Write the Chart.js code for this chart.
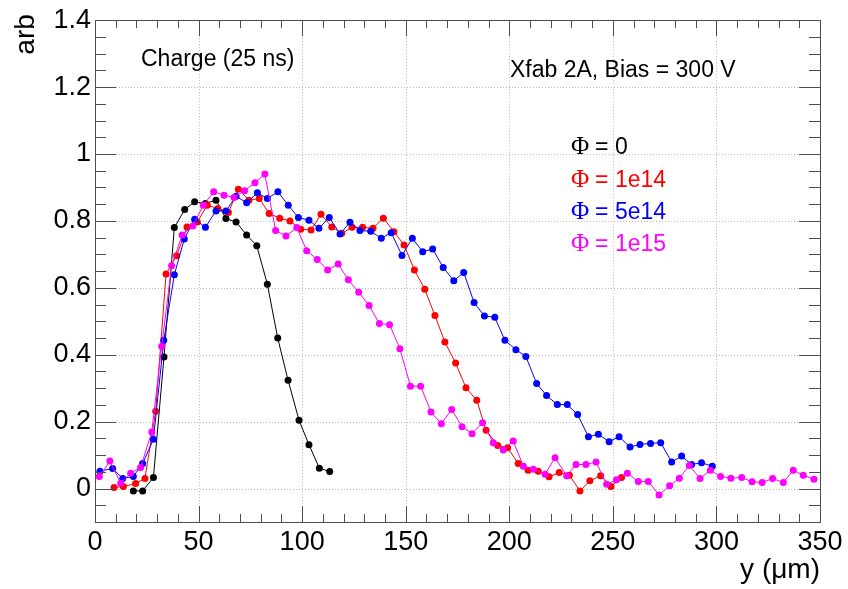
<!DOCTYPE html>
<html>
<head>
<meta charset="utf-8">
<script src="https://cdn.jsdelivr.net/npm/chart.js@4.4.1/dist/chart.umd.min.js"></script>
<style>
  html, body { margin: 0; padding: 0; background: #ffffff; }
  #c { display: block; }
</style>
</head>
<body>
<canvas id="c" width="848" height="589"></canvas>
<script>
// ---------------- data ----------------
const seriesLabels = ['0', '1e14', '5e14', '1e15'];
const seriesColors = ['#000000', '#ff0000', '#0000ff', '#ff00ff'];

const phi0X = [18.5, 23, 28.2, 33.3, 38.3, 43.3, 48.1, 53.3, 58.4, 63.2, 68.1, 73.2, 78.1, 83.2, 88.2, 93.2, 98.5, 103.3, 108.3, 113.3];
const phi0Y = [-0.007, -0.007, 0.033, 0.393, 0.78, 0.834, 0.857, 0.852, 0.862, 0.807, 0.797, 0.758, 0.726, 0.611, 0.45, 0.324, 0.204, 0.131, 0.061, 0.051];

const phi1e14X = [9.2, 13.7, 19.6, 24.1, 29.3, 34.3, 39.4, 44.4, 49.4, 54.2, 59.3, 64.4, 69.2, 74.3, 79.3, 84.1, 89.2, 94.1, 99.3, 104.3, 109.1, 114.3, 119.1, 124.1, 129.2, 134.2, 139.2, 144.3, 149.2, 154.2, 159.2, 164.1, 168.9, 174.1, 179.1, 184.3, 188.8, 194.4, 199.2, 204.3, 209.1, 214, 219.2, 224.1, 229, 234.1, 238.9, 244.1, 249.1, 254.2];
const phi1e14Y = [0.003, 0.006, 0.015, 0.03, 0.231, 0.641, 0.696, 0.782, 0.797, 0.847, 0.837, 0.825, 0.895, 0.862, 0.867, 0.822, 0.808, 0.80, 0.775, 0.773, 0.82, 0.782, 0.763, 0.781, 0.781, 0.778, 0.808, 0.768, 0.728, 0.653, 0.596, 0.517, 0.438, 0.375, 0.301, 0.264, 0.174, 0.129, 0.122, 0.075, 0.055, 0.052, 0.035, 0.048, 0.04, -0.007, 0.023, 0.038, 0.006, 0.033];

const phi5e14X = [2.4, 8.5, 13.4, 18.5, 23, 28.2, 33.2, 38.3, 43.1, 48.1, 53.3, 58.4, 63.2, 68.1, 73.2, 78.4, 83.2, 88.3, 93.3, 98.2, 103.3, 108.1, 113.1, 118.3, 123.1, 127.9, 133.1, 138.2, 143, 148.2, 153.2, 158.2, 163, 168.1, 173.2, 178, 183, 188, 193, 197.9, 203.2, 208, 213.2, 218, 223.2, 228, 233, 238.2, 243, 248.2, 253, 258.3, 263.1, 268.2, 273.1, 278.4, 283.2, 288, 292.8, 298];
const phi5e14Y = [0.052, 0.06, 0.03, 0.036, 0.075, 0.147, 0.443, 0.639, 0.746, 0.805, 0.781, 0.83, 0.83, 0.874, 0.854, 0.884, 0.867, 0.887, 0.847, 0.81, 0.802, 0.778, 0.81, 0.761, 0.796, 0.771, 0.769, 0.748, 0.765, 0.697, 0.748, 0.708, 0.716, 0.661, 0.621, 0.646, 0.556, 0.516, 0.512, 0.443, 0.415, 0.395, 0.314, 0.278, 0.251, 0.251, 0.221, 0.155, 0.162, 0.14, 0.155, 0.124, 0.132, 0.135, 0.137, 0.079, 0.097, 0.072, 0.077, 0.067];

const phi1e15X = [2.1, 7.2, 12.4, 17.2, 22, 27.4, 32.2, 37, 42.1, 47.2, 52.3, 57.3, 62.3, 67.1, 72.2, 77.2, 82, 87.2, 92.2, 97.4, 102.2, 107.3, 112.3, 117.4, 122.3, 127.3, 132.3, 137.3, 142.2, 147.2, 152.3, 157.2, 162.2, 167.2, 172.2, 177.2, 182, 187.1, 192.3, 197.1, 201.9, 206.8, 211.6, 217.3, 222.1, 227.7, 232.2, 237, 241.9, 247, 251.8, 257, 262.3, 267.1, 272.3, 277.4, 282.1, 286.9, 292.1, 297.1, 302, 307, 312.2, 317.2, 322.1, 327.1, 332.3, 337.1, 341.9, 347.1];
const phi1e15Y = [0.036, 0.082, 0.016, 0.046, 0.063, 0.169, 0.425, 0.666, 0.758, 0.785, 0.847, 0.887, 0.877, 0.87, 0.89, 0.914, 0.94, 0.771, 0.755, 0.78, 0.711, 0.685, 0.653, 0.671, 0.624, 0.587, 0.547, 0.493, 0.49, 0.418, 0.306, 0.306, 0.229, 0.194, 0.236, 0.185, 0.164, 0.197, 0.137, 0.115, 0.142, 0.067, 0.058, 0.043, 0.092, 0.038, 0.072, 0.072, 0.079, 0.013, 0.026, 0.046, 0.021, 0.021, -0.019, 0.008, 0.031, 0.069, 0.03, 0.055, 0.036, 0.031, 0.033, 0.02, 0.018, 0.03, 0.018, 0.055, 0.04, 0.028];

const xTickLabels = [0, 50, 100, 150, 200, 250, 300, 350];
const yTickLabels = [0, 0.2, 0.4, 0.6, 0.8, 1, 1.2, 1.4];
const xRange = [0, 350];
const yRange = [-0.1, 1.4];

// ---------------- build ----------------
const allX = [phi0X, phi1e14X, phi5e14X, phi1e15X];
const allY = [phi0Y, phi1e14Y, phi5e14Y, phi1e15Y];
const datasets = seriesLabels.map((lab, i) => ({
  label: lab,
  data: allX[i].map((x, k) => ({ x: x, y: allY[i][k] })),
  borderColor: seriesColors[i],
  backgroundColor: seriesColors[i],
  borderWidth: 1,
  pointRadius: 3.5,
  pointBorderWidth: 0,
  pointBackgroundColor: seriesColors[i],
  tension: 0,
  order: 3 - i
}));

const SANS = '"Liberation Sans", Arial, Helvetica, sans-serif';
const SERIF = '"Liberation Serif", "Times New Roman", serif';
const FRAME = '#4d4d4d';

function line(ctx, x1, y1, x2, y2) {
  ctx.beginPath(); ctx.moveTo(x1, y1); ctx.lineTo(x2, y2); ctx.stroke();
}

const rootStyle = {
  id: 'rootStyle',
  beforeDatasetsDraw(chart) {
    const { ctx, chartArea: a, scales: { x, y } } = chart;
    ctx.save();
    ctx.strokeStyle = '#b8b8b8';
    ctx.lineWidth = 1;
    ctx.setLineDash([1, 2]);
    xTickLabels.forEach(v => {
      if (v <= xRange[0] || v >= xRange[1]) return;
      const px = Math.round(x.getPixelForValue(v)) + 0.5;
      line(ctx, px, a.top, px, a.bottom);
    });
    yTickLabels.forEach(v => {
      if (v <= yRange[0] || v >= yRange[1]) return;
      const py = Math.round(y.getPixelForValue(v)) + 0.5;
      line(ctx, a.left, py, a.right, py);
    });
    ctx.restore();
  },
  afterDatasetsDraw(chart) {
    const { ctx, chartArea: a, scales: { x, y } } = chart;
    ctx.save();
    ctx.strokeStyle = FRAME;
    ctx.lineWidth = 1;
    ctx.setLineDash([]);
    // frame
    ctx.strokeRect(Math.round(a.left) + 0.5, Math.round(a.top) + 0.5,
                   Math.round(a.right - a.left), Math.round(a.bottom - a.top));
    // x ticks (major 50, minor 10) bottom & top
    for (let v = xRange[0]; v <= xRange[1] + 1e-9; v += 10) {
      const major = Math.abs(v / 50 - Math.round(v / 50)) < 1e-6;
      const len = major ? 16 : 8;
      const px = Math.round(x.getPixelForValue(v)) + 0.5;
      line(ctx, px, a.bottom, px, a.bottom - len);
      line(ctx, px, a.top, px, a.top + len);
    }
    // y ticks (major 0.2, minor 0.05) left & right
    for (let k = Math.ceil(yRange[0] / 0.05); k * 0.05 <= yRange[1] + 1e-9; k++) {
      const v = k * 0.05;
      const major = k % 4 === 0;
      const len = major ? 21 : 11;
      const py = Math.round(y.getPixelForValue(v)) + 0.5;
      line(ctx, a.left, py, a.left + len, py);
      line(ctx, a.right, py, a.right - len, py);
    }
    // texts
    ctx.fillStyle = '#000';
    ctx.textBaseline = 'alphabetic';
    ctx.textAlign = 'left';
    ctx.font = '23px ' + SANS;
    ctx.fillText('Charge (25 ns)', 141, 66);
    ctx.fillText('Xfab 2A, Bias = 300 V', 510, 77);
    // legend
    const baseY = [154, 186.5, 219, 251];
    seriesLabels.forEach((lab, i) => {
      ctx.fillStyle = seriesColors[i];
      ctx.font = '25px ' + SERIF;
      ctx.fillText('\u03A6', 571, baseY[i]);
      ctx.font = '23px ' + SANS;
      ctx.fillText('=', 595, baseY[i]);
      ctx.fillText(lab, 615, baseY[i]);
    });
    // axis titles
    ctx.fillStyle = '#000';
    ctx.font = '28px ' + SANS;
    ctx.textAlign = 'right';
    ctx.fillText('y (\u03BCm)', a.right, 578);
    ctx.save();
    ctx.translate(34, a.top - 6);
    ctx.rotate(-Math.PI / 2);
    ctx.textAlign = 'right';
    ctx.fillText('arb', 0, 0);
    ctx.restore();
    ctx.restore();
  }
};

new Chart(document.getElementById('c'), {
  type: 'line',
  data: { datasets: datasets },
  options: {
    responsive: false,
    animation: false,
    events: [],
    layout: { padding: { left: 0, right: 28, top: 19, bottom: 0 } },
    plugins: { legend: { display: false }, tooltip: { enabled: false } },
    scales: {
      x: {
        type: 'linear',
        min: xRange[0], max: xRange[1],
        grid: { display: false, drawTicks: false },
        border: { display: false },
        ticks: {
          stepSize: 50,
          padding: 4,
          color: '#000',
          font: { family: SANS, size: 27 },
          maxRotation: 0,
          callback: v => (xTickLabels.includes(v) ? String(v) : '')
        },
        afterFit: s => { s.height = 67; }
      },
      y: {
        type: 'linear',
        min: yRange[0], max: yRange[1],
        grid: { display: false, drawTicks: false },
        border: { display: false },
        ticks: {
          stepSize: 0.2,
          padding: 4,
          color: '#000',
          font: { family: SANS, size: 27 },
          callback: v => {
            const r = Math.round(v * 10) / 10;
            return yTickLabels.some(t => Math.abs(t - r) < 1e-6) && Math.abs(v - r) < 1e-6 ? String(r) : '';
          }
        },
        afterFit: s => { s.width = 95; }
      }
    }
  },
  plugins: [rootStyle]
});
</script>
</body>
</html>
